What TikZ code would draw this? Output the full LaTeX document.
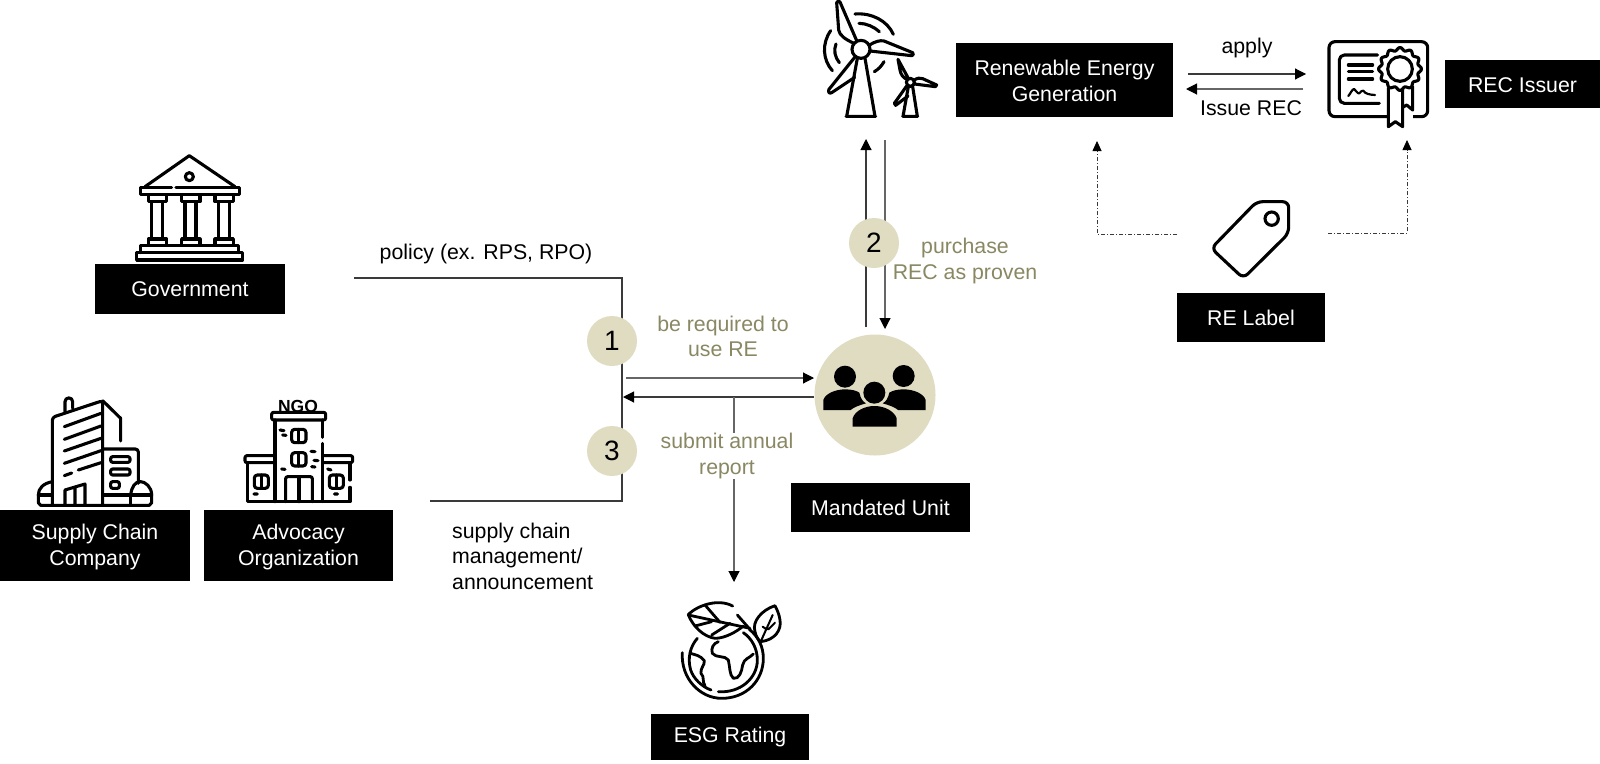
\documentclass[tikz,border=0pt]{standalone}
\usepackage{fontspec}
\setmainfont{Liberation Sans}
\usetikzlibrary{arrows.meta}
\definecolor{sand}{HTML}{E0DCC2}
\definecolor{olive}{HTML}{8A8763}
\definecolor{wire}{HTML}{3A3A3A}
\definecolor{wiregray}{HTML}{666666}
\tikzset{
  blackbox/.style={fill=black,text=white,inner sep=0pt,align=center,font=\fontsize{21.3}{25.5}\selectfont},
  lbl/.style={inner sep=0pt,align=center,text=black,font=\fontsize{21.3}{25.5}\selectfont},
  olbl/.style={lbl,text=olive},
  num/.style={circle,fill=sand,minimum size=50pt,inner sep=0pt,font=\fontsize{28}{30}\selectfont},
  conn/.style={draw=wire,line width=1.1pt},
  arr/.style={conn,-{Triangle[length=11pt,width=11pt,color=black,fill=black]}},
  dd/.style={draw=wire,line width=0.8pt,dash pattern=on 4pt off 2pt on 1pt off 2pt,-{Triangle[length=10pt,width=9pt,color=black,fill=black]}},
  icon/.style={line width=3.1pt,line cap=round,line join=round},
  icons/.style={x=0.33333pt,y=-0.33333pt},
}
\begin{document}
\begin{tikzpicture}[x=1pt,y=-1pt]
\useasboundingbox (0,0) rectangle (1600,763);
\fill[white] (0,0) rectangle (1600,763);

% black label boxes
\node[blackbox,minimum width=217pt,minimum height=74pt] (ren) at (1064.5,80) {\rule{0pt}{17.5pt}Renewable Energy\\Generation};
\node[blackbox,minimum width=155pt,minimum height=48pt] (rec) at (1522.5,84) {\rule{0pt}{17.5pt}REC Issuer};
\node[blackbox,minimum width=148pt,minimum height=49pt] (label) at (1251,317.5) {RE Label};
\node[blackbox,minimum width=190pt,minimum height=50pt] (gov) at (190,289) {Government};
\node[blackbox,minimum width=190pt,minimum height=71pt] (sup) at (95,545) {\rule{0pt}{19.5pt}Supply Chain\\Company};
\node[blackbox,minimum width=189pt,minimum height=71pt] (adv) at (298.5,545) {\rule{0pt}{19.5pt}Advocacy\\Organization};
\node[blackbox,minimum width=179pt,minimum height=49pt] (unit) at (880.5,507.5) {Mandated Unit};
\node[blackbox,minimum width=158pt,minimum height=46pt] (esg) at (730,737) {ESG Rating};

% connector end points
\coordinate (polA) at (354,278);
\coordinate (polB) at (622,278);
\coordinate (polC) at (622,501);
\coordinate (polD) at (430,501);
\coordinate (reqA) at (626,378);
\coordinate (reqB) at (814,378);
\coordinate (subA) at (814,397);
\coordinate (subB) at (623,397);
\coordinate (rateA) at (734,397);
\coordinate (rateB) at (734,582);
\coordinate (upA) at (866,327);
\coordinate (upB) at (866,139);
\coordinate (dnA) at (885,140);
\coordinate (dnB) at (885,329);
\coordinate (apA) at (1188,74);
\coordinate (apB) at (1306,74);
\coordinate (isA) at (1303,89);
\coordinate (isB) at (1186,89);
\coordinate (lA) at (1177,234);
\coordinate (lB) at (1097,234);
\coordinate (lC) at (1097,141);
\coordinate (rA) at (1328,233);
\coordinate (rB) at (1407,233);
\coordinate (rC) at (1407,140);

% connectors
\draw[conn] (polA) -- (polB) -- (polC) -- (polD);
\draw[arr,draw=wiregray] (reqA) -- (reqB);
\draw[arr] (subA) -- (subB);
\draw[arr,draw=wiregray] (rateA) -- (rateB);
\draw[arr] (upA) -- (upB);
\draw[arr,draw=wiregray] (dnA) -- (dnB);
\draw[arr] (apA) -- (apB);
\draw[arr,draw=wiregray] (isA) -- (isB);
\draw[dd] (lA) -- (lB) -- (lC);
\draw[dd] (rA) -- (rB) -- (rC);

% numbered circles
\node[num] (n1) at (612,341) {1};
\node[num] (n2) at (874,243) {2};
\node[num] (n3) at (612,451) {3};

% labels
\node[lbl] (tPol) at (486,254) {policy (ex. RPS, RPO)};
\node[olbl] (tReq) at (723,336.5) {be required to\\use RE};
\node[olbl,fill=white] (tSub) at (727,456) {submit annual\\report};
\node[olbl] (tPur) at (965,261) {purchase\\REC as proven};
\node[lbl,anchor=west,align=left] (tSc) at (452,556) {supply chain\\management/\\announcement};
\node[lbl] (tAp) at (1247,48) {apply};
\node[lbl] (tIs) at (1251,108) {Issue REC};

% mandated-unit people icon
\node[circle,fill=sand,minimum size=121pt,inner sep=0pt] (mand) at (875,395) {};
\begin{scope}[shift={(790,320)},icons]
\fill (165,170) circle (33) (341,168) circle (33);
\fill (100,270) -- (100,240) .. controls (105,222) and (135,208) .. (165,208)
  .. controls (185,208) and (200,212) .. (208,218) .. controls (212,235) and (218,245) .. (228,250)
  .. controls (210,255) and (190,262) .. (182,270) -- cycle;
\fill (407,270) -- (407,240) .. controls (402,222) and (372,208) .. (341,208)
  .. controls (322,208) and (307,212) .. (298,218) .. controls (294,235) and (288,245) .. (278,250)
  .. controls (296,255) and (316,262) .. (324,270) -- cycle;
\fill (253,218) circle (33);
\fill (188,320) -- (188,295) .. controls (195,272) and (225,258) .. (253,258)
  .. controls (282,258) and (312,272) .. (320,295) -- (320,320) -- cycle;
\end{scope}

% wind turbines
\begin{scope}[shift={(780,0)},icons,icon]
\draw (243,148) circle (27);
\draw (222,130) .. controls (195,118) and (178,105) .. (176,90) -- (170,8) .. controls (172,2) and (178,2) .. (180,6) -- (230,122);
\draw (270,134) .. controls (285,125) and (300,120) .. (312,123) -- (398,158) .. controls (402,162) and (400,167) .. (395,167) -- (270,153);
\draw (224,172) -- (147,268) .. controls (143,276) and (148,282) .. (155,278) -- (224,232);
\draw (232,175) -- (200,349) (255,175) -- (285,349) (198,349) -- (287,349);
\draw (225,42) .. controls (275,38) and (322,62) .. (340,103);
\draw (237,70) .. controls (258,70) and (282,80) .. (298,95);
\draw (152,92) .. controls (125,130) and (128,180) .. (157,212);
\draw (168,132) .. controls (160,150) and (165,172) .. (178,188);
\draw (312,185) .. controls (305,198) and (295,208) .. (283,215);
\draw (391,247) circle (12);
\draw (380,238) .. controls (368,232) and (362,222) .. (360,210) -- (354,178) -- (385,235);
\draw (403,240) .. controls (412,234) and (420,233) .. (428,236) -- (470,255) -- (466,260) -- (403,252);
\draw (380,258) -- (343,310) -- (347,316) -- (384,288);
\draw (385,260) -- (369,349) (398,260) -- (412,349) (368,349) -- (413,349);
\end{scope}

% certificate
\begin{scope}[shift={(1080,20)},icons,icon]
\draw[rounded corners=6pt] (747,65) rectangle (1043,290);
\draw[rounded corners=5pt] (893,105) -- (778,105) -- (778,250) -- (898,250);
\draw (805,135) -- (878,135) (805,155) -- (878,155) (805,177) -- (878,177);
\draw[line width=2.2pt] (805,228) .. controls (812,220) and (816,208) .. (822,207) .. controls (828,210) and (832,222) .. (838,220) .. controls (842,216) and (846,210) .. (850,212) .. controls (855,222) and (870,224) .. (885,225);
\fill[white] (922,195) rectangle (1000,300);
\draw[fill=white] (925,205) -- (925,320) -- (946,305) -- (968,320) -- (968,205);
\draw (968,262) -- (980,255) -- (998,270) -- (998,200);
\draw[fill=white,smooth,samples=97,domain=0:360] plot ({960+60*cos(\x)+4.5*cos(\x)*cos(12*\x)},{147+60*sin(\x)+4.5*sin(\x)*cos(12*\x)}) -- cycle;
\draw (960,147) circle (37);
\end{scope}

% tag
\begin{scope}[shift={(1080,20)},icons,icon]
\draw[rounded corners=6pt] (530,545) -- (626,545) -- (626,640) -- (490,775) -- (394,685) -- cycle;
\draw (575,596) circle (20);
\end{scope}

% government building
\begin{scope}[shift={(120,140)},icons,icon]
\draw (75,140) -- (208,47) -- (345,140);
\draw (208,110) circle (12);
\draw (155,142) -- (62,142) -- (62,163) -- (358,163) -- (358,142) -- (168,142);
\foreach \d in {0,100,200}{
  \draw[xshift=\d*0.33333pt] (85,165) -- (85,185) -- (140,185) -- (140,165)
    (95,185) -- (95,295) (128,185) -- (128,295)
    (85,315) -- (85,297) -- (140,297) -- (140,315);
}
\draw (62,338) -- (62,317) -- (355,317) -- (355,338);
\draw (50,338) rectangle (368,360);
\end{scope}

% supply chain company
\begin{scope}[shift={(20,380)},icons,icon]
\draw[rounded corners=3pt] (97,375) -- (97,112) -- (248,62) -- (248,375);
\draw (248,62) -- (302,115) -- (302,183);
\draw (135,95) -- (135,65) .. controls (135,50) and (158,50) .. (158,65) -- (158,85);
\draw (133,140) -- (243,100) (133,178) -- (243,138) (133,213) -- (243,175) (133,250) -- (243,212) (133,287) -- (155,279) (175,270) -- (243,248);
\draw (135,375) -- (135,330) -- (195,312) -- (195,375) (165,322) -- (165,375);
\draw[rounded corners=3pt] (248,207) -- (355,207) -- (355,310);
\draw[rounded corners=2pt] (272,230) rectangle (330,247) (272,267) rectangle (330,285) (272,305) rectangle (298,325);
\draw (97,305) .. controls (70,310) and (55,325) .. (55,345) -- (55,368) -- (62,376) -- (388,376) -- (395,368) -- (395,345) .. controls (395,320) and (375,305) .. (362,305) .. controls (345,305) and (335,320) .. (332,345);
\draw (55,345) -- (97,345) (250,345) -- (395,345) (332,345) -- (332,375);
\end{scope}

% NGO building
\node[inner sep=0pt,font=\fontsize{17.5}{18}\bfseries\selectfont] (ngo) at (298,406) {NGO};
\begin{scope}[shift={(20,380)},icons,icon]
\draw[rounded corners=2pt] (755,97) rectangle (917,120);
\draw (765,120) -- (765,365) (908,120) -- (908,172) (908,190) -- (908,365);
\draw[rounded corners=2pt] (765,227) -- (675,227) -- (675,248) -- (765,248);
\draw[rounded corners=2pt] (908,227) -- (998,227) -- (998,248) -- (908,248);
\draw (683,248) -- (683,365) -- (990,365) -- (990,322) (990,300) -- (990,248);
\draw[rounded corners=3pt] (815,148) rectangle (858,188) (815,218) rectangle (858,258) (703,285) rectangle (745,325) (928,285) rectangle (970,325);
\draw (836,148) -- (836,188) (836,218) -- (836,258) (724,285) -- (724,325) (949,285) -- (949,325);
\draw[rounded corners=2pt] (797,365) -- (797,290) -- (877,290) -- (877,365);
\draw (837,290) -- (837,365);
\draw (780,150) -- (792,152) (788,165) -- (798,166) (873,214) -- (885,215) (882,241) -- (894,242) (875,260) -- (885,261) (785,267) -- (795,268) (923,267) -- (933,270) (702,342) -- (712,342) (943,342) -- (953,342);
\end{scope}

% ESG globe
\begin{scope}[shift={(650,590)},icons,icon,line width=2.8pt]
\draw (97,188) .. controls (92,265) and (150,325) .. (215,325) .. controls (290,325) and (340,270) .. (340,205) .. controls (340,170) and (325,140) .. (298,118);
\draw (205,305) .. controls (270,310) and (322,265) .. (322,210) .. controls (322,175) and (305,145) .. (280,128);
\draw (142,145) .. controls (120,170) and (112,205) .. (122,240) .. controls (130,265) and (155,290) .. (183,300);
\draw (205,155) .. controls (190,160) and (182,175) .. (187,190) .. controls (198,205) and (225,195) .. (235,210) .. controls (240,230) and (238,255) .. (250,265) .. controls (268,268) and (275,245) .. (278,225) .. controls (282,205) and (298,205) .. (310,192);
\draw (122,190) .. controls (135,195) and (150,195) .. (163,212) .. controls (165,225) and (150,235) .. (153,250) .. controls (165,262) and (155,275) .. (165,287);
\draw (115,73) .. controls (145,45) and (205,25) .. (248,48);
\draw (115,75) .. controls (130,110) and (160,140) .. (195,145) .. controls (225,145) and (260,125) .. (280,108);
\draw (115,75) -- (300,115) (262,75) -- (300,118);
\draw (165,45) -- (210,97) (135,108) -- (185,95) (185,135) -- (240,100);
\draw (375,47) .. controls (335,60) and (305,95) .. (315,125) .. controls (318,140) and (325,150) .. (332,155) .. controls (375,150) and (395,120) .. (390,90) .. controls (388,75) and (382,60) .. (375,47);
\draw[line width=2pt] (332,155) -- (368,75) (338,110) -- (350,118) (375,98) -- (355,118);
\end{scope}
\end{tikzpicture}
\end{document}
